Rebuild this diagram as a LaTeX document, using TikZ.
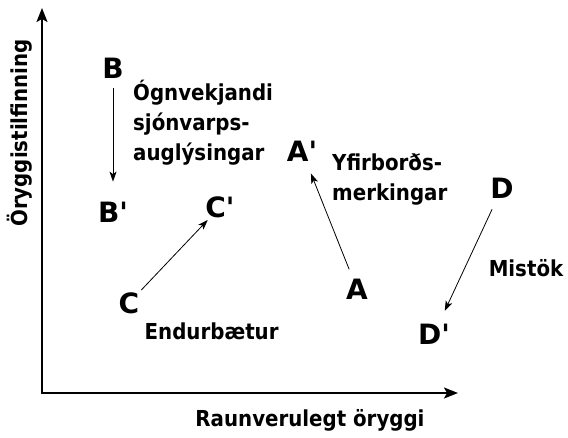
\documentclass[tikz,border=0pt]{standalone}
\usepackage{fontspec}
\setmainfont{DejaVu Sans}
\newfontfamily\labelfont{DejaVu Sans Condensed Bold}
\usetikzlibrary{arrows.meta,positioning}

\begin{document}
\begin{tikzpicture}[
    x=1pt, y=-1pt,
    axis/.style={{Stealth[length=14pt, width=11pt, inset=3pt]}-{Stealth[length=14pt, width=11pt, inset=3pt]},
                 line width=2pt, line join=miter},
    point/.style={font=\bfseries\fontsize{28}{28}\selectfont, inner sep=0pt},
    move/.style={-{Stealth[length=10pt, width=7pt, inset=2.5pt]}, line width=0.8pt},
    note/.style={font=\labelfont\fontsize{22}{30}\selectfont, align=left, inner sep=0pt},
]
    \useasboundingbox (0,0) rectangle (568,437);

    % Axes
    \coordinate (ytip) at (42,8);
    \coordinate (origin) at (42,393);
    \coordinate (xtip) at (458,393);
    \draw[axis] (ytip) -- (origin) -- (xtip);
    \node[note, rotate=90] (ylab) at (20,133) {Öryggistilfinning};
    \node[note] (xlab) at (310,420) {Raunverulegt öryggi};

    % Points before and after
    \node[point] (B)  at (113,68)  {B};
    \node[point] (Bp) at (113,212) {B\textquotesingle};
    \node[point] (C)  at (129,303) {C};
    \node[point] (Cp) at (220,207) {C\textquotesingle};
    \node[point] (A)  at (357,289) {A};
    \node[point] (Ap) at (302,151) {A\textquotesingle};
    \node[point] (D)  at (502,188) {D};
    \node[point] (Dp) at (434,334) {D\textquotesingle};

    % Shifts
    \draw[move, shorten <=10pt, shorten >=20pt] (B) -- (Bp);
    \draw[move, shorten <=3pt, shorten >=3pt] (C) -- (Cp);
    \draw[move, shorten <=10pt, shorten >=13pt] (A) -- (Ap);
    \draw[move, shorten <=12pt, shorten >=14pt] (D) -- (Dp);

    % Causes
    \node[note, anchor=west] (ogn) at (133,123) {Ógnvekjandi\\sjónvarps-\\auglýsingar};
    \node[note, below right=9pt and 5pt of C] (endur) {Endurbætur};
    \node[note, anchor=west] (yfir) at (332,180) {Yfirborðs-\\merkingar};
    \node[note] (mist) at (526,268) {Mistök};
\end{tikzpicture}
\end{document}
